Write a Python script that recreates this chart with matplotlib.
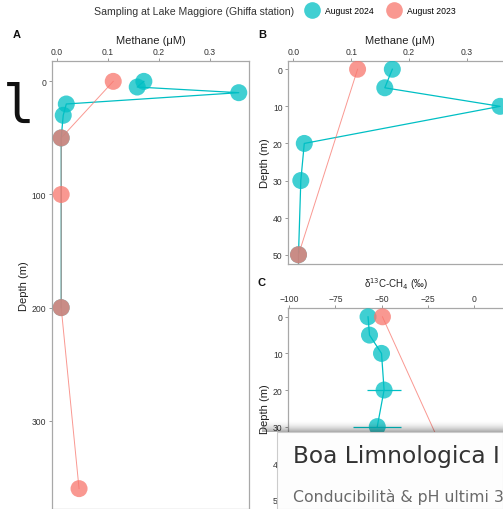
import matplotlib
matplotlib.use("Agg")
import matplotlib.pyplot as plt
from matplotlib.patches import Rectangle
from matplotlib.lines import Line2D

plt.rcParams['font.family'] = ['Liberation Sans', 'DejaVu Sans']

# ---------------- data ----------------
depth_2024 = [0, 5, 10, 20, 30, 50, 200]
methane_2024 = [0.171, 0.158, 0.357, 0.019, 0.013, 0.009, 0.009]
depth_2023 = [0, 50, 100, 200, 360]
methane_2023 = [0.111, 0.009, 0.009, 0.009, 0.044]

d13c_depth_2024 = [0, 5, 10, 20, 30]
d13c_2024 = [-57.3, -56.5, -50.0, -48.6, -52.3]
d13c_err_2024 = [0, 0, 0, 9.0, 13.0]
d13c_depth_2023 = [0, 50]
d13c_2023 = [-49.5, -4.5]

legend_title = "Sampling at Lake Maggiore (Ghiffa station)"
legend_labels = ["August 2024", "August 2023"]

TEAL = "#00BFC4"
RED = "#F8766D"
W, H = 503, 510

fig = plt.figure(figsize=(W / 100, H / 100), dpi=100)


def ax_px(left, top, right, bottom):
    return fig.add_axes([left / W, 1 - bottom / H, (right - left) / W, (bottom - top) / H])


def style(ax):
    for s in ax.spines.values():
        s.set_color("#a8a8a8")
        s.set_linewidth(0.9)
    ax.xaxis.tick_top()
    ax.xaxis.set_label_position("top")
    ax.tick_params(axis="both", length=2.5, width=0.6, color="#888888",
                   labelsize=6.2, labelcolor="#333333", pad=1.5)
    ax.tick_params(axis="x", pad=1.0)
    ax.set_facecolor("white")


def draw_methane(ax):
    ax.plot(methane_2024, depth_2024, color=TEAL, lw=0.9, zorder=2)
    ax.plot(methane_2023, depth_2023, color=RED, lw=0.7, alpha=0.75, zorder=2)
    ax.scatter(methane_2024, depth_2024, s=150, color=TEAL, alpha=0.75,
               edgecolors="none", zorder=3)
    ax.scatter(methane_2023, depth_2023, s=150, color=RED, alpha=0.75,
               edgecolors="none", zorder=4)
    ax.set_xticks([0.0, 0.1, 0.2, 0.3])
    ax.set_xticklabels(["0.0", "0.1", "0.2", "0.3"])
    ax.set_xlabel("Methane (\u03bcM)", fontsize=8, color="#222222", labelpad=3)
    ax.set_ylabel("Depth (m)", fontsize=8, color="#222222", labelpad=2)


# Panel A
axA = ax_px(51.7, 62, 249.3, 510)
style(axA)
draw_methane(axA)
axA.set_xlim(-0.0096, 0.3776)
axA.set_ylim(378, -18)
axA.set_yticks([0, 100, 200, 300])

# Panel B
axB = ax_px(288.3, 61.7, 512, 265)
style(axB)
draw_methane(axB)
axB.set_xlim(-0.0086, 0.3776)
axB.set_ylim(52.5, -2.3)
axB.set_yticks([0, 10, 20, 30, 40, 50])

# Panel C
axC = ax_px(288.3, 309, 512, 510)
style(axC)
axC.errorbar(d13c_2024, d13c_depth_2024, xerr=d13c_err_2024, color=TEAL,
             lw=0.9, elinewidth=0.9, capsize=0, zorder=2)
axC.plot(d13c_2023, d13c_depth_2023, color=RED, lw=0.7, alpha=0.75, zorder=2)
axC.scatter(d13c_2024, d13c_depth_2024, s=150, color=TEAL, alpha=0.75,
            edgecolors="none", zorder=3)
axC.scatter(d13c_2023, d13c_depth_2023, s=150, color=RED, alpha=0.75,
            edgecolors="none", zorder=4)
axC.set_xlim(-100.5, 20.7)
axC.set_ylim(52.5, -2.4)
axC.set_xticks([-100, -75, -50, -25, 0])
axC.set_xticklabels(["\u2212100", "\u221275", "\u221250", "\u221225", "0"])
axC.set_yticks([0, 10, 20, 30, 40, 50])
axC.set_xlabel("\u03b4$^{13}$C-CH$_4$ (\u2030)", fontsize=7.0, color="#222222",
               labelpad=2)
axC.xaxis.set_label_coords((396 - 288.3) / (512 - 288.3), 1.0 + 25 / 201)
axC.xaxis.label.set_va("center")
axC.set_ylabel("Depth (m)", fontsize=8, color="#222222", labelpad=2)

# Panel letters
for lab, x, y in [("A", 17, 35), ("B", 262, 35), ("C", 262, 283)]:
    fig.text(x / W, 1 - y / H, lab, fontsize=8, fontweight="bold",
             ha="center", va="center", color="#111111")

# Legend
fig.text(94 / W, 1 - 12 / H, legend_title, fontsize=7.6, color="#333333",
         ha="left", va="center")
handles = [Line2D([], [], marker="o", ls="none", markersize=12, color=TEAL,
                  alpha=0.75, markeredgewidth=0),
           Line2D([], [], marker="o", ls="none", markersize=12, color=RED,
                  alpha=0.75, markeredgewidth=0)]
fig.legend(handles, legend_labels, loc="center left",
           bbox_to_anchor=(305.1 / W, 1 - 12 / H), ncol=2, frameon=False,
           fontsize=6.2, handlelength=1.6, handletextpad=0.72,
           columnspacing=1.52, borderpad=0, borderaxespad=0)

# Stray glyph at left edge
fig.text(3 / W, 1 - 123 / H, "l", fontsize=38, family="DejaVu Sans Mono",
         color="#111111", ha="left", va="baseline")

# Overlay card with shadow
card_left, card_top = 277, 433
n = 12
for i in range(n):
    y0 = card_top - (i + 1) * 1.0
    a = 0.32 * (1 - i / n) ** 2
    fig.add_artist(Rectangle((262 / W, 1 - (y0 + 1.0) / H), (W - 262) / W, 1.0 / H,
                             transform=fig.transFigure, color="black", alpha=a,
                             lw=0, zorder=20))
fig.add_artist(Rectangle((card_left / W, 0), (W - card_left) / W, 1 - card_top / H,
                         transform=fig.transFigure, facecolor="#fdfdfd",
                         edgecolor="#cccccc", lw=0.8, zorder=21))
fig.text(293 / W, 1 - 463.5 / H, "Boa Limnologica I", fontsize=16.8,
         family="DejaVu Sans", color="#333333", ha="left", va="baseline", zorder=22)
fig.text(293 / W, 1 - 501.7 / H, "Conducibilit\u00e0 & pH ultimi 3", fontsize=11.3,
         family="DejaVu Sans", color="#6a6a6a", ha="left", va="baseline", zorder=22)

fig.savefig("out.png", dpi=100)
